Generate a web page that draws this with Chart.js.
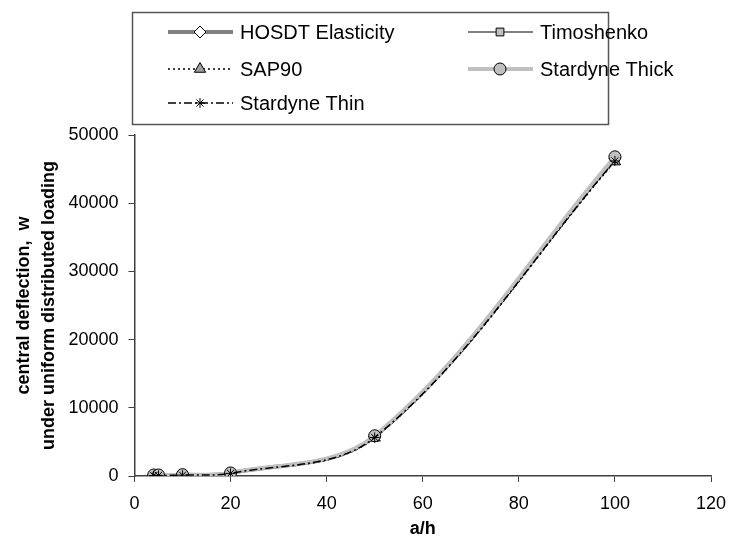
<!DOCTYPE html>
<html>
<head>
<meta charset="utf-8">
<script src="https://cdn.jsdelivr.net/npm/chart.js@4.4.1/dist/chart.umd.min.js"></script>
<style>
  html, body { margin: 0; background: #fff; }
  #deflectionChart { display: block; }
</style>
</head>
<body>
<canvas id="deflectionChart" width="729" height="540"></canvas>
<script>
// a/h ratios and central deflection for each method
const aspectRatios = [4, 5, 10, 20, 50, 100];
const hosdtElasticity = [60, 80, 130, 420, 5800, 46600];
const timoshenko = [50, 70, 110, 400, 5750, 46400];
const sap90 = [0, 0, 60, 330, 5600, 46100];
const stardyneThick = [150, 150, 200, 450, 5900, 46800];
const stardyneThin = [60, 80, 120, 380, 5650, 46200];

const xTickValues = [0, 20, 40, 60, 80, 100, 120];
const yTickValues = [0, 10000, 20000, 30000, 40000, 50000];

const FONT = "Arial, 'Liberation Sans', sans-serif";
const AXIS_COLOR = "#404040";

function points(values) {
  return values.map((y, i) => ({ x: aspectRatios[i], y }));
}

function series(label, values, order, style) {
  return Object.assign({
    label,
    order,
    data: points(values),
    tension: 0.35,
    pointRadius: 5.5,
    pointBorderWidth: 1,
    pointBorderColor: "#000",
    borderCapStyle: "butt",
    fill: false,
  }, style);
}

// later series sit on top, so the order runs backwards
const datasets = [
  series("HOSDT Elasticity", hosdtElasticity, 5, {
    borderColor: "#808080", borderWidth: 4,
    pointStyle: "rectRot", pointBackgroundColor: "#fff", pointRadius: 6,
  }),
  series("Timoshenko", timoshenko, 4, {
    borderColor: "#000", borderWidth: 1,
    pointStyle: "rect", pointBackgroundColor: "#c0c0c0",
  }),
  series("SAP90", sap90, 3, {
    borderColor: "#000", borderWidth: 1.3, borderDash: [2, 3],
    pointStyle: "triangle", pointBackgroundColor: "#a0a0a0", pointRadius: 6.5,
  }),
  series("Stardyne Thick", stardyneThick, 2, {
    borderColor: "#c0c0c0", borderWidth: 4,
    pointStyle: "circle", pointBackgroundColor: "#c0c0c0", pointRadius: 6,
  }),
  series("Stardyne Thin", stardyneThin, 1, {
    borderColor: "#000", borderWidth: 1.5, borderDash: [8, 3, 2, 3],
    pointStyle: "star", pointBackgroundColor: "#000", pointRadius: 5,
  }),
];

// boxed two-column legend drawn above the plot, line + marker like the series
const boxedLegend = {
  id: "boxedLegend",
  afterDraw(chart) {
    const ctx = chart.ctx;
    const box = { left: 132, top: 12, right: 608, bottom: 124 };
    const rows = [32, 69, 103];
    const cols = [168, 468];
    const lineLen = 65;

    ctx.save();
    ctx.strokeStyle = "#555";
    ctx.lineWidth = 1.5;
    ctx.strokeRect(box.left + 0.5, box.top + 0.5, box.right - box.left, box.bottom - box.top);

    chart.data.datasets.forEach((ds, i) => {
      const x = cols[i % 2];
      const y = rows[Math.floor(i / 2)];
      ctx.save();
      ctx.strokeStyle = ds.borderColor;
      ctx.lineWidth = ds.borderWidth;
      ctx.setLineDash(ds.borderDash || []);
      ctx.beginPath();
      ctx.moveTo(x, y);
      ctx.lineTo(x + lineLen, y);
      ctx.stroke();
      ctx.setLineDash([]);
      ctx.fillStyle = ds.pointBackgroundColor;
      ctx.strokeStyle = ds.pointBorderColor;
      ctx.lineWidth = ds.pointBorderWidth;
      Chart.helpers.drawPoint(ctx, {
        pointStyle: ds.pointStyle,
        radius: ds.pointRadius,
        rotation: 0,
        borderWidth: ds.pointBorderWidth,
      }, x + 32, y);
      ctx.restore();

      ctx.fillStyle = "#000";
      ctx.font = "20px " + FONT;
      ctx.textBaseline = "middle";
      ctx.fillText(ds.label, x + 72, y + 1);
    });
    ctx.restore();
  },
};

new Chart(document.getElementById("deflectionChart"), {
  type: "line",
  data: { datasets },
  plugins: [boxedLegend],
  options: {
    responsive: false,
    animation: false,
    layout: { padding: { top: 135, left: 11, right: 0, bottom: 0 } },
    plugins: { legend: { display: false }, tooltip: { enabled: false } },
    scales: {
      x: {
        type: "linear",
        min: xTickValues[0],
        max: xTickValues[xTickValues.length - 1],
        afterBuildTicks: (axis) => { axis.ticks = xTickValues.map((value) => ({ value })); },
        // keep the last label hanging past the plot edge
        afterFit: (axis) => { axis.paddingRight = 18; },
        grid: { drawOnChartArea: false, color: AXIS_COLOR, tickLength: 6 },
        border: { color: AXIS_COLOR, width: 1.5 },
        ticks: {
          color: "#000", font: { family: FONT, size: 18, lineHeight: 1 }, padding: 13, maxRotation: 0,
          callback: (value) => String(value),
        },
        title: {
          display: true, text: "a/h", color: "#000",
          font: { family: FONT, size: 18, weight: "bold", lineHeight: 1 }, padding: { top: -6, bottom: 2 },
        },
      },
      y: {
        min: yTickValues[0],
        max: yTickValues[yTickValues.length - 1],
        afterBuildTicks: (axis) => { axis.ticks = yTickValues.map((value) => ({ value })); },
        grid: { drawOnChartArea: false, color: AXIS_COLOR, tickLength: 6 },
        border: { color: AXIS_COLOR, width: 1.5 },
        ticks: {
          color: "#000", font: { family: FONT, size: 18 }, padding: 10,
          callback: (value) => String(value),
        },
        title: {
          display: true,
          text: ["central deflection,  w", "under uniform distributed loading"],
          color: "#000",
          font: { family: FONT, size: 18, weight: "bold", lineHeight: 1.4 },
          padding: { top: 0, bottom: -3 },
        },
      },
    },
  },
});
</script>
</body>
</html>
